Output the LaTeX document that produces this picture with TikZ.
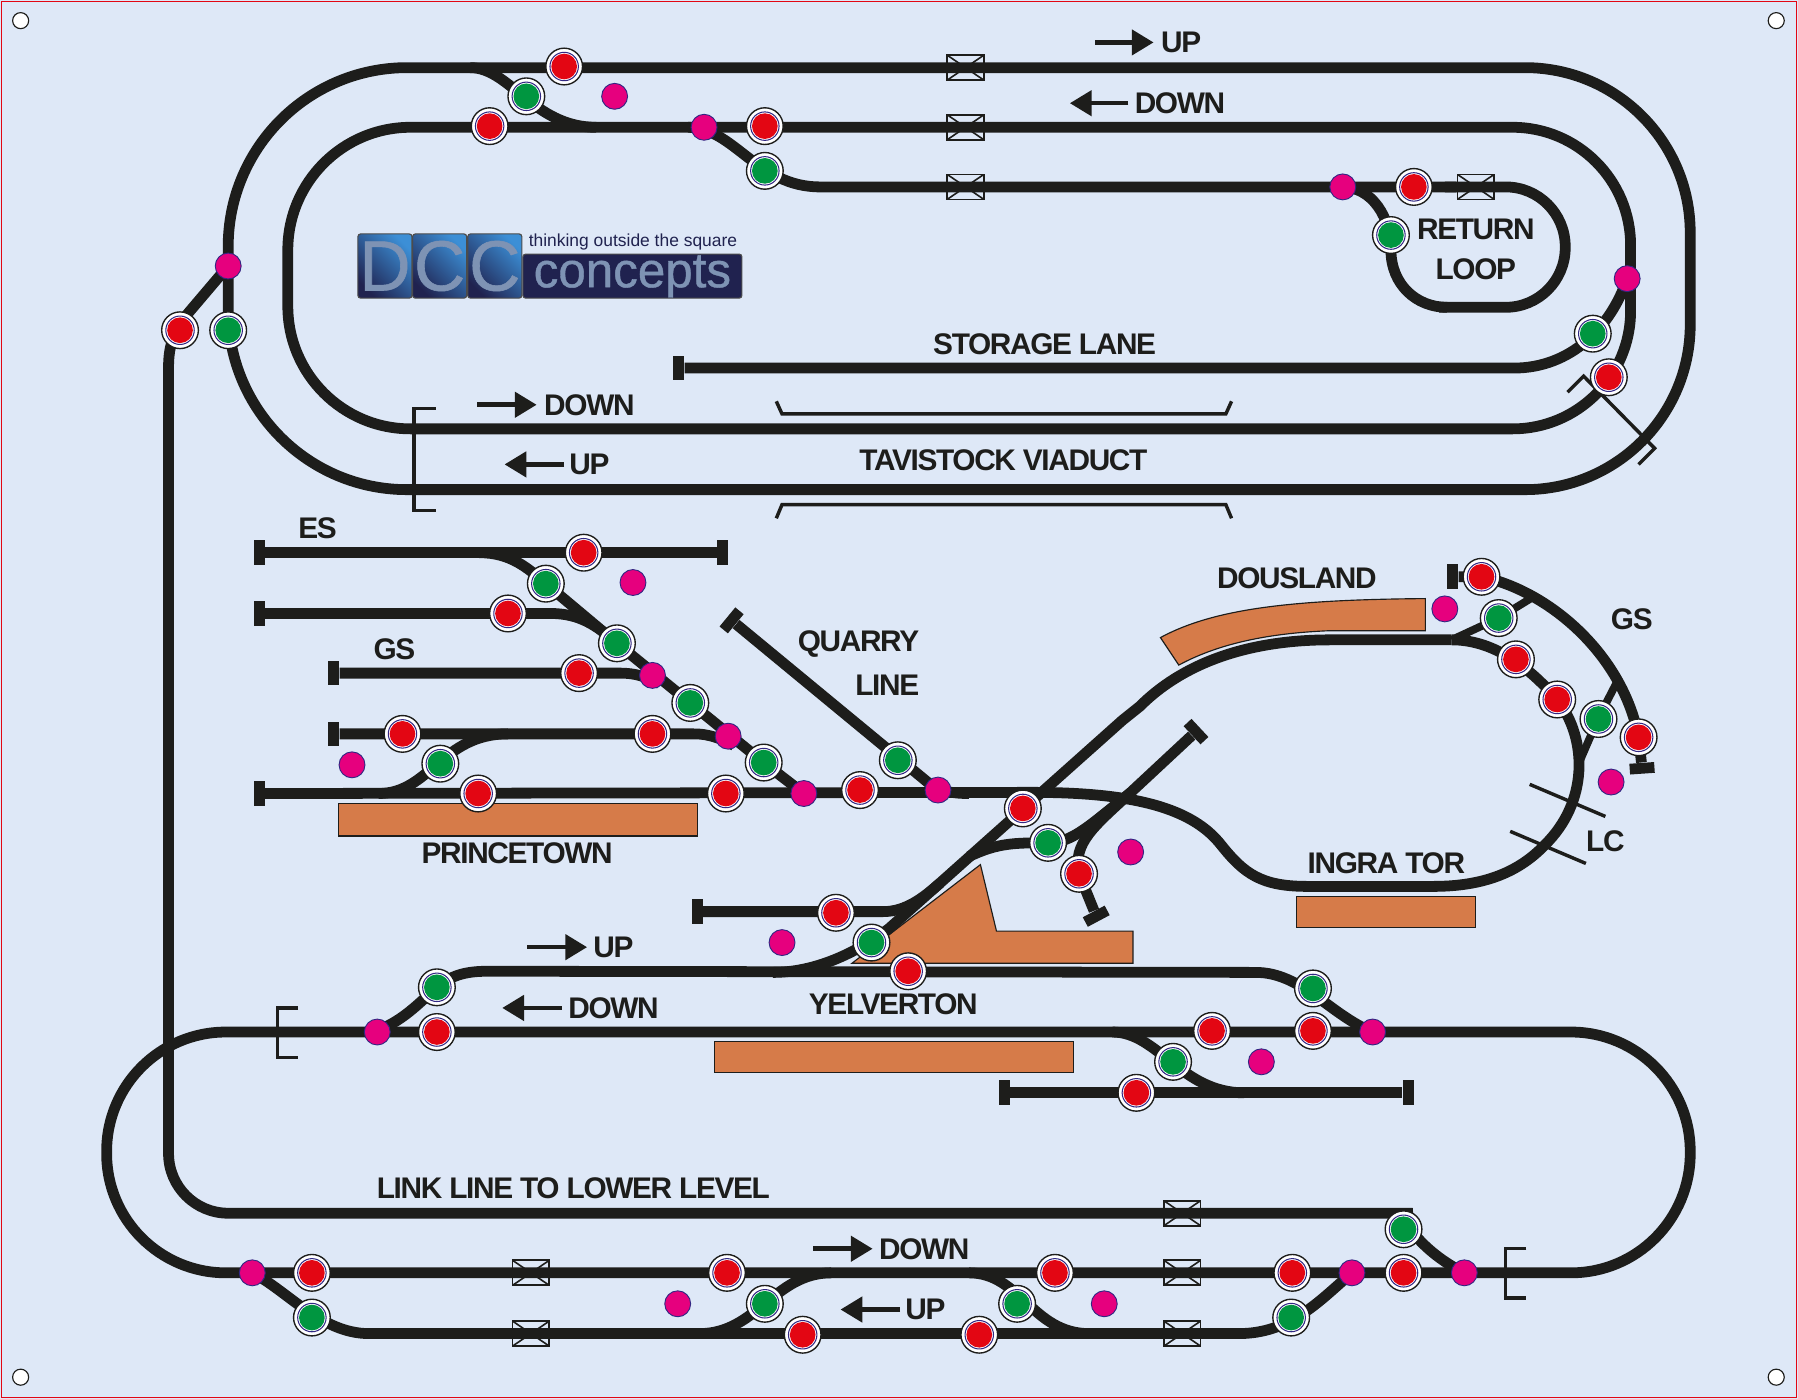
\documentclass[tikz,border=0pt]{standalone}
\usepackage{fontspec}
\setmainfont[LetterSpace=-4.5]{Liberation Sans}
\newfontfamily\logofont{Liberation Sans}
\newfontfamily\logofat[FakeBold=.8]{Liberation Sans}
\usetikzlibrary{arrows.meta}

\definecolor{boardblue}{HTML}{DEE8F7}
\definecolor{trackblack}{HTML}{1D1D1B}
\definecolor{sigred}{HTML}{E30613}
\definecolor{siggreen}{HTML}{009640}
\definecolor{ptpink}{HTML}{E6007E}
\definecolor{ringblue}{HTML}{312783}
\definecolor{platorange}{HTML}{D67B49}
\definecolor{logonavy}{HTML}{20224F}
\definecolor{logosky}{HTML}{3C8FD6}
\definecolor{logodeep}{HTML}{0F3A86}
\definecolor{logometal}{HTML}{7E93B4}

\tikzset{
    track/.style={draw=trackblack, line width=4.7pt},
    thinline/.style={draw=trackblack, line width=1.5pt},
    stopbar/.style={rectangle, fill=trackblack, minimum width=4.7pt, minimum height=10.8pt, inner sep=0pt},
    signal/.style={circle, draw=trackblack, line width=.6pt, fill=white, minimum size=16pt, inner sep=0pt,
        path picture={
            \draw[ringblue, line width=.45pt, fill=white] (path picture bounding box.center) circle (6.2pt);
            \fill[#1] (path picture bounding box.center) circle (5.6pt);
        }},
    points/.style={circle, draw=ringblue, line width=.4pt, fill=ptpink, minimum size=11.3pt, inner sep=0pt},
    xbox/.style={rectangle, draw=trackblack, line width=.75pt, minimum width=16pt, minimum height=10.9pt, inner sep=0pt,
        path picture={
            \draw[trackblack, line width=.7pt] (path picture bounding box.south west) -- (path picture bounding box.north east);
            \draw[trackblack, line width=.7pt] (path picture bounding box.north west) -- (path picture bounding box.south east);
        }},
    platform/.style={fill=platorange, draw=trackblack, line width=.5pt},
    lab/.style={font=\fontsize{13}{13}\selectfont\bfseries, text=trackblack, inner sep=0pt},
    dirarrow/.style={draw=trackblack, line width=2pt, -{Triangle[length=9.5pt,width=10.9pt]}},
    logobox/.style={rectangle, rounded corners=1.2pt, draw=black!70, line width=.5pt, left color=logosky, middle color=logodeep, right color=logonavy, shading angle=-45, minimum width=23.6pt, minimum height=28pt, inner sep=0pt},
    logotext/.style={inner sep=0pt, text=logometal},
}

\begin{document}
\begin{tikzpicture}[x=.5pt,y=-.5pt]
\useasboundingbox (0,0) rectangle (1568,1220);

% Board and corner holes
\fill[boardblue] (0,0) rectangle (1568,1220);
\draw[sigred, line width=.5pt] (1,1) rectangle (1567,1219);
\foreach \x/\y in {18/18,1549/18,18/1201,1549/1201} {
    \draw[trackblack, line width=.5pt, fill=white] (\x,\y) circle (3.5pt);
}

% Platforms
\draw[platform] (295,701) rectangle (608,729);
\draw[platform] (623,908) rectangle (936,935);
\draw[platform] (1131,782) rectangle (1287,809);
\draw[platform] (743,840) -- (855,754) -- (869,812) -- (988,812) -- (988,840) -- cycle;
\draw[platform] (1012,556) .. controls (1060,530) and (1130,523) .. (1243,522) -- (1243,550) -- (1160,550) .. controls (1110,552) and (1065,560) .. (1028,580) -- cycle;

% Buffer stops
\foreach \n/\x/\y/\r in {stopStorage/592/321/0, stopEsL/226/482/0, stopEsR/630/482/0, stopTwo/226/535/0,
    stopGs/291/587/0, stopFour/291/640/0, stopFive/226/692/0, stopQuarry/638/541/-39.5,
    stopBack/1043/638/43, stopTail/956/799/-62, stopSiding/608/795/0, stopYardL/876/953/0,
    stopYardR/1228/953/0, stopGsTop/1267/503/0, stopGsBot/1432/670/-86} {
    \node[stopbar, rotate=\r] (\n) at (\x,\y) {};
}

% Upper level loops
\draw[track, rounded corners=72pt] (800,59) -- (1474,59) -- (1474,427) -- (800,427) [rounded corners=78pt] -- (199,427) -- (199,59) -- cycle;
\draw[track, rounded corners=51.5pt] (800,111) -- (1422,111) -- (1422,374) -- (800,374) [rounded corners=53.5pt] -- (251,374) -- (251,111) -- cycle;
\draw[track] (410,59) .. controls (445,59) and (465,111) .. (520,111);
\draw[track] (600,111) .. controls (640,111) and (660,163) .. (715,163) -- (1270,163);
\draw[track] (1170,163) .. controls (1197,163) and (1213,190) .. (1213,218) .. controls (1213,248) and (1235,268) .. (1262,268);
\draw[track, rounded corners=26pt] (1260,163) -- (1365,163) -- (1365,268) -- (1255,268);
\draw[track] (stopStorage) -- (1320,321) .. controls (1370,321) and (1405,285) .. (1419,243);

% Link line
\draw[track] (199,232) -- (165,272) .. controls (152,288) and (147,300) .. (147,320) [rounded corners=26pt] -- (147,1058) -- (1180,1058) [sharp corners] .. controls (1215,1058) and (1240,1092) .. (1277,1110);

% Lower level loop
\draw[track, rounded corners=52pt] (800,900) -- (1474,900) -- (1474,1110) -- (93,1110) -- (93,900) -- cycle;
\draw[track] (325,900) .. controls (350,892) and (365,875) .. (381,861) .. controls (393,851) and (405,847) .. (425,847) -- (1095,848) .. controls (1135,848) and (1160,885) .. (1197,900);
\draw[track] (970,900) .. controls (1010,900) and (1030,953) .. (1085,953);
\draw[track] (stopYardL) -- (stopYardR);
\draw[track] (220,1110) .. controls (250,1125) and (280,1163) .. (322,1163) -- (1080,1163) .. controls (1125,1163) and (1150,1135) .. (1179,1110);
\draw[track] (610,1163) .. controls (660,1163) and (675,1110) .. (725,1110);
\draw[track] (845,1110) .. controls (890,1110) and (900,1163) .. (950,1163);

% Princetown yard
\draw[track] (stopEsL) -- (stopEsR);
\draw[track] (418,482) .. controls (445,482) and (460,495) .. (476,509) -- (538,561) -- (602,613) -- (666,665) -- (701,692);
\draw[track] (stopTwo) -- (480,535) .. controls (505,535) and (520,545) .. (538,561);
\draw[track] (stopGs) -- (540,587) .. controls (555,587) and (562,590) .. (575,596);
\draw[track] (stopFour) -- (605,640) .. controls (620,640) and (630,645) .. (640,650);
\draw[track] (330,692) .. controls (375,692) and (385,640) .. (443,640);
\draw[track] (stopFive) -- (900,691) .. controls (990,691) and (1040,705) .. (1065,737) .. controls (1085,762) and (1100,773) .. (1140,773) -- (1250,773) .. controls (1295,773) and (1325,760) .. (1347,737) .. controls (1385,700) and (1385,645) .. (1358,610) .. controls (1330,578) and (1300,558) .. (1266,558);
\draw[track] (stopQuarry) -- (810,683) .. controls (820,690) and (830,692) .. (845,692);

% Yelverton and Dousland
\draw[track] (674,848) .. controls (710,848) and (745,832) .. (775,810) -- (979,628) -- (994,616) .. controls (1030,580) and (1085,558) .. (1160,558) -- (1266,558);
\draw[track] (stopSiding) -- (770,795) .. controls (790,795) and (805,783) .. (820,770);
\draw[track] (845,747) .. controls (870,735) and (885,735) .. (914,735) .. controls (935,735) and (950,720) .. (985,692);
\draw[track] (stopBack) -- (985,692) .. controls (955,720) and (935,735) .. (941,762) -- (stopTail);

% Goods sidings at Dousland
\draw[track] (stopGsTop) -- (1292,503) .. controls (1350,515) and (1415,570) .. (1429,643) -- (stopGsBot);
\draw[track, line width=3.4pt] (1266,558) -- (1307,539) -- (1338,520);
\draw[track, line width=3.4pt] (1411,593) -- (1394,626) -- (1378,663);

% Viaduct and level crossing marks
\draw[thinline] (677,350) -- (682,361) -- (1069,361) -- (1074,350);
\draw[thinline] (677,452) -- (682,440) -- (1069,440) -- (1074,452);
\draw[thinline] (380,356) -- (361,356) -- (361,445) -- (380,445);
\draw[thinline] (1367,342) -- (1381,328) -- (1443,391) -- (1429,405);
\draw[thinline] (260,879) -- (242,879) -- (242,922) -- (260,922);
\draw[thinline] (1331,1089) -- (1313,1089) -- (1313,1132) -- (1331,1132);
\draw[thinline] (1334,684) -- (1400,712);
\draw[thinline] (1317,725) -- (1383,753);

% Section boxes
\foreach \x/\y [count=\i] in {842/59,842/111,842/163,1287/163,463/1110,463/1163,1031/1058,1031/1110,1031/1163} {
    \node[xbox] (box\i) at (\x,\y) {};
}

% Red signals
\foreach \x/\y [count=\i] in {492/58,427/110,667/110,1233/163,1403/329,157/288,509/482,443/535,505/587,569/640,351/640,
    417/692,633/692,750/689,892/705,941/762,729/796,792/847,381/900,1057/899,1145/899,991/953,272/1110,634/1110,
    700/1164,854/1164,920/1110,1127/1110,1224/1110,1292/503,1322/575,1358/610,1429/643} {
    \node[signal=sigred] (red\i) at (\x,\y) {};
}

% Green signals
\foreach \x/\y [count=\i] in {459/84,667/149,1213/205,1389/291,199/288,476/509,538/561,602/613,666/665,384/666,783/663,
    914/735,760/822,381/861,1145/862,1023/926,272/1149,667/1137,887/1137,1126/1149,1224/1072,1307/539,1394/627} {
    \node[signal=siggreen] (green\i) at (\x,\y) {};
}

% Points
\foreach \x/\y [count=\i] in {536/84,614/111,1171/163,1419/243,199/232,552/508,569/589,635/642,701/692,818/689,307/667,
    986/743,682/822,1260/531,1405/682,329/900,1197/900,1100/926,220/1110,591/1137,963/1137,1179/1110,1277/1110} {
    \node[points] (pt\i) at (\x,\y) {};
}

% Direction arrows
\foreach \xa/\xb/\y [count=\i] in {955/1006/37,984/933/90,416/468/353,492/440/405,460/512/826,490/438/879,709/761/1089,785/733/1142} {
    \coordinate (dirA\i) at (\xa,\y);
    \coordinate (dirB\i) at (\xb,\y);
    \draw[dirarrow] (dirA\i) -- (dirB\i);
}

% Labels
\node[lab] (upA) at (1030,37) {UP};
\node[lab] (downA) at (1029,90) {DOWN};
\node[lab] (downB) at (514,353) {DOWN};
\node[lab] (upB) at (514,405) {UP};
\node[lab] (upC) at (535,826) {UP};
\node[lab] (downC) at (535,879) {DOWN};
\node[lab] (downD) at (806,1089) {DOWN};
\node[lab] (upD) at (807,1142) {UP};
\node[lab] (storage) at (911,300) {STORAGE LANE};
\node[lab] (viaduct) at (875,401) {TAVISTOCK VIADUCT};
\node[lab] (returnA) at (1287,200) {RETURN};
\node[lab] (returnB) at (1287,235) {LOOP};
\node[lab] (es) at (277,461) {ES};
\node[lab] (gsA) at (344,566) {GS};
\node[lab] (gsB) at (1423,540) {GS};
\node[lab, anchor=east] (quarryA) at (802,562) {QUARRY};
\node[lab, anchor=east] (quarryB) at (802,598) {LINE};
\node[lab] (princetown) at (451,744) {PRINCETOWN};
\node[lab] (dousland) at (1131,504) {DOUSLAND};
\node[lab] (ingra) at (1209,753) {INGRA TOR};
\node[lab] (lc) at (1400,734) {LC};
\node[lab] (yelverton) at (779,876) {YELVERTON};
\node[lab] (link) at (500,1036) {LINK LINE TO LOWER LEVEL};

% Logo
\foreach \n/\x/\l in {logoD/335.7/D,logoC/383.4/C,logoE/431.5/C} {
    \node[logobox] (\n) at (\x,232) {};
    \node[logotext, font=\fontsize{31}{31}\logofat] (\n Text) at (\n) {\l};
}
\node[rectangle, rounded corners=1.2pt, draw=black!70, line width=.5pt, fill=logonavy, minimum width=95.5pt, minimum height=19.2pt, inner sep=0pt] (logoBar) at (551.5,240.8) {};
\node[logotext, anchor=base, font=\fontsize{21.5}{21.5}\logofat] (logoName) at (551.5,250.5) {concepts};
\node[inner sep=0pt, text=logonavy, font=\fontsize{7.6}{8}\logofont] (logoLine) at (552,211) {thinking outside the square};

\end{tikzpicture}
\end{document}
